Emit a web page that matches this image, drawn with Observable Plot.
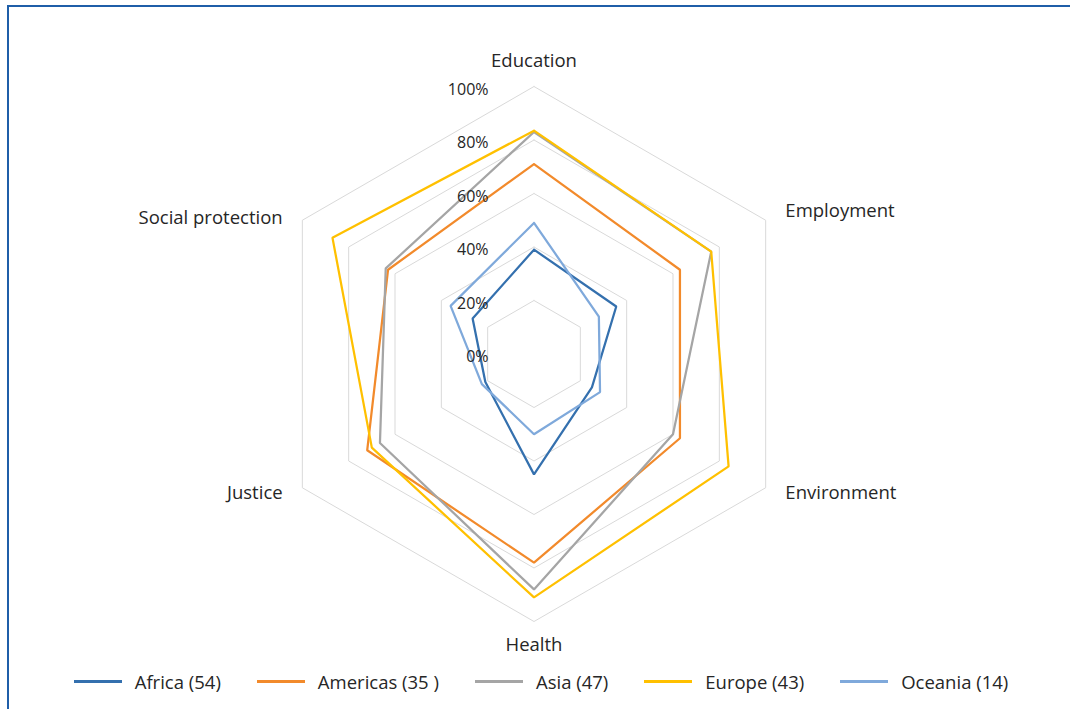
<!DOCTYPE html>
<html>
<head>
<meta charset="utf-8">
<script src="https://cdn.jsdelivr.net/npm/d3@7"></script>
<script src="https://cdn.jsdelivr.net/npm/@observablehq/plot@0.6"></script>
<style>
  html, body { margin: 0; padding: 0; background: #fff; }
  #wrap { position: relative; width: 1070px; height: 709px; overflow: hidden; font-family: "Open Sans", Lato, sans-serif; color: #262626; }
  #frameTop { position: absolute; left: 7px; top: 5px; width: 1063px; height: 2px; background: #1f5ea8; }
  #frameLeft { position: absolute; left: 7px; top: 5px; width: 2px; height: 704px; background: #1f5ea8; }
  #chart { position: absolute; left: 0; top: 0; }
  #legend { position: absolute; left: 0; top: 669px; width: 1070px; height: 24px; display: flex; justify-content: center; align-items: center; gap: 36px; padding-left: 12px; box-sizing: border-box; font-size: 18.5px; }
  .item { display: flex; align-items: center; gap: 13px; white-space: pre; }
  .sw { width: 48px; height: 3px; }
</style>
</head>
<body>
<div id="wrap">
  <div id="chart"></div>
  <div id="frameTop"></div>
  <div id="frameLeft"></div>
  <div id="legend"></div>
</div>
<script>
// ---- data ----
const categories = ["Education", "Employment", "Environment", "Health", "Justice", "Social protection"];
const seriesNames = ["Africa (54)", "Americas (35 )", "Asia (47)", "Europe (43)", "Oceania (14)"];
const seriesColors = ["#3470ae", "#f28a2b", "#a5a5a5", "#ffc000", "#7fa9db"];
const africa   = [0.39, 0.355, 0.25, 0.45, 0.21, 0.265];
const americas = [0.71, 0.63, 0.63, 0.78, 0.72, 0.63];
const asia     = [0.83, 0.765, 0.60, 0.88, 0.665, 0.64];
const europe   = [0.835, 0.765, 0.84, 0.91, 0.70, 0.87];
const oceania  = [0.49, 0.28, 0.285, 0.30, 0.225, 0.36];
const tickValues = [0, 0.2, 0.4, 0.6, 0.8, 1];
const tickLabels = ["0%", "20%", "40%", "60%", "80%", "100%"];

// ---- geometry helpers (polar -> cartesian) ----
const n = categories.length;
const ang = i => (i % n) * 2 * Math.PI / n;
const px = (i, r) => r * Math.sin(ang(i));
const py = (i, r) => r * Math.cos(ang(i));

const allSeries = [africa, americas, asia, europe, oceania];
const lineRows = [];
allSeries.forEach((vals, s) => {
  for (let i = 0; i <= n; i++) {
    lineRows.push({series: seriesNames[s], i, r: vals[i % n]});
  }
});
const gridRows = [];
tickValues.filter(t => t > 0).forEach(t => {
  for (let i = 0; i <= n; i++) gridRows.push({ring: t, i, r: t});
});
const anchorFor = i => {
  const s = Math.sin(ang(i));
  return Math.abs(s) < 1e-6 ? "middle" : (s > 0 ? "start" : "end");
};
const labelRows = categories.map((c, i) => ({c, i, anchor: anchorFor(i)}));
const tickRows = tickValues.map((t, k) => ({t, label: tickLabels[k]}));

// ---- layout ----
const W = 1070, H = 660;
const cx = 533.5, cy = 353.5, R = 267.5;
const labelR = 1.085;
const labelShiftY = [-3, 2, -6, 1, -6, 9]; // small per-label vertical nudges (px)

const labelText = anchor => Plot.text(labelRows.filter(d => d.anchor === anchor), {
  x: d => px(d.i, labelR),
  y: d => py(d.i, labelR) - labelShiftY[d.i] / R,
  text: "c",
  textAnchor: anchor,
  fontSize: 18.5, fill: "#262626"
});

const chart = Plot.plot({
  width: W,
  height: H,
  margin: 0,
  x: {domain: [-cx / R, (W - cx) / R], range: [0, W], axis: null},
  y: {domain: [-(H - cy) / R, cy / R], range: [H, 0], axis: null},
  color: {domain: seriesNames, range: seriesColors},
  style: {fontFamily: "'Open Sans', Lato, sans-serif", color: "#262626", background: "transparent"},
  marks: [
    Plot.line(gridRows, {x: d => px(d.i, d.r), y: d => py(d.i, d.r), z: "ring", stroke: "#d9d9d9", strokeWidth: 1}),
    Plot.line(lineRows, {x: d => px(d.i, d.r), y: d => py(d.i, d.r), z: "series", stroke: "series", strokeWidth: 2.25, strokeLinejoin: "miter"}),
    Plot.text(tickRows, {x: -0.17, y: "t", text: "label", textAnchor: "end", dy: 3, fontSize: 16, fill: "#262626"}),
    labelText("middle"),
    labelText("start"),
    labelText("end")
  ]
});
document.getElementById("chart").appendChild(chart);

// ---- legend ----
const legend = document.getElementById("legend");
seriesNames.forEach((name, s) => {
  const it = document.createElement("div");
  it.className = "item";
  const sw = document.createElement("div");
  sw.className = "sw";
  sw.style.background = seriesColors[s];
  const tx = document.createElement("span");
  tx.textContent = name;
  it.appendChild(sw);
  it.appendChild(tx);
  legend.appendChild(it);
});
</script>
</body>
</html>
